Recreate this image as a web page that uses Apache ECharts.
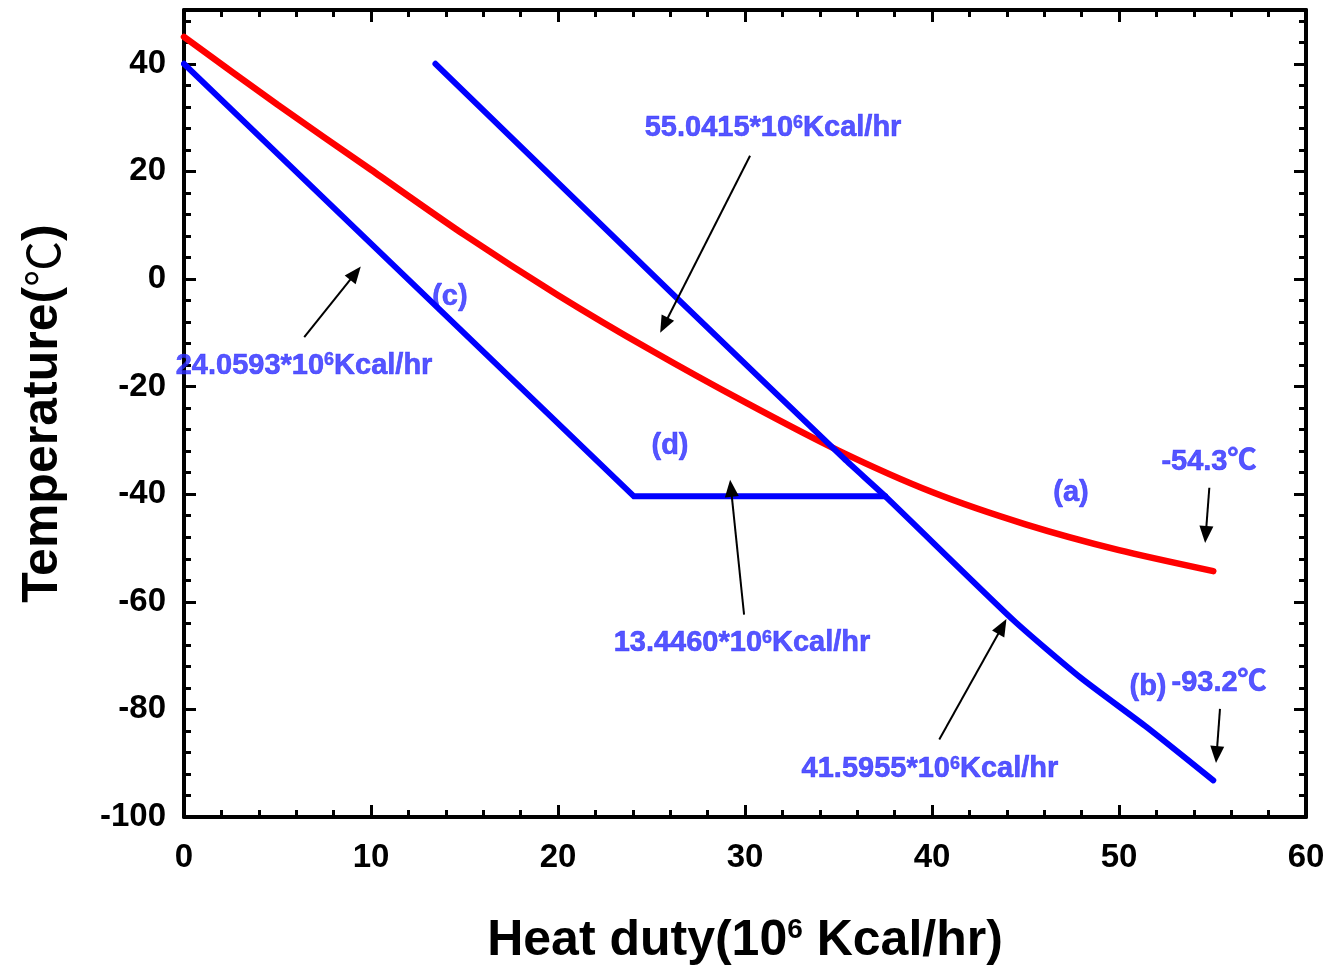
<!DOCTYPE html>
<html style="height: 100%">
<head>
<meta charset="utf-8">
</head>
<body style="height: 100%; margin: 0; background: #fff">
<div id="container" style="width: 1330px; height: 968px"></div>
<script src="https://cdn.jsdelivr.net/npm/echarts@6/dist/echarts.min.js"></script>
<script>
// curve (a): hot stream
var hotDuty = [0, 5, 10, 15, 20, 25, 30, 35, 40, 45, 50, 55.0415];
var hotTemp = [45, 32.4, 20.3, 8.2, -3.0, -13.3, -22.9, -31.9, -39.6, -45.6, -50.4, -54.3];
// curve (b): cold stream
var coldBDuty = [13.446, 26.4, 35.3, 37.5053, 44.35, 47.91, 51.48, 55.0415];
var coldBTemp = [40, -3.7, -33.4, -40.4, -63.4, -74.0, -83.3, -93.2];
// curves (c) + (d)
var coldCDuty = [0, 24.0593, 37.5053];
var coldCTemp = [40, -40.4, -40.4];

// text notes: [text, x, y]
var noteText = ['55.0415*10^6Kcal/hr', '(c)', '24.0593*10^6Kcal/hr', '(d)', '13.4460*10^6Kcal/hr',
                '(a)', '-54.3℃', '(b)', '-93.2℃', '41.5955*10^6Kcal/hr'];
var noteX = [31.5, 14.22, 6.42, 25.99, 29.84, 47.43, 54.81, 51.55, 55.35, 39.89];
var noteY = [28.0, -3.4, -16.1, -31.1, -67.7, -39.7, -34.1, -75.9, -75.0, -91.1];

// arrows: tail -> head
var arrowFrom = [[6.43, -10.8], [30.27, 22.9], [29.95, -62.4], [40.39, -85.6], [54.83, -38.8], [55.4, -79.9]];
var arrowTo = [[9.17, 1.08], [25.67, -8.6], [29.25, -38.9], [43.76, -64.6], [54.64, -47.5], [55.22, -88.4]];

function zip(a, b) {
  var out = [];
  for (var i = 0; i < a.length; i++) out.push([a[i], b[i]]);
  return out;
}

var FONT = "'Liberation Sans', Arial, 'Noto Sans CJK SC', sans-serif";
var CJK = "'Noto Sans CJK SC', 'DejaVu Sans', sans-serif";
var NOTE = '#2b2bff';

var notes = [];
for (var i = 0; i < noteText.length; i++) {
  notes.push({ value: [noteX[i], noteY[i]], name: noteText[i] });
}
var arrows = [];
for (var j = 0; j < arrowFrom.length; j++) {
  arrows.push([{ coord: arrowFrom[j] }, { coord: arrowTo[j] }]);
}

var tickAxis = function (pos, interval, len, showLine) {
  var vertical = pos === 'left' || pos === 'right';
  return {
    type: 'value', position: pos, min: vertical ? -100 : 0, max: vertical ? 50 : 60, interval: interval,
    axisLine: { show: showLine, onZero: false, lineStyle: { color: '#000', width: 4 } },
    axisTick: { show: true, inside: true, length: len, lineStyle: { color: '#000', width: 3 } },
    axisLabel: { show: false }, splitLine: { show: false }
  };
};

var dom = document.getElementById('container');
var myChart = echarts.init(dom);

var option = {
  animation: false,
  backgroundColor: '#fff',
  grid: { left: 184, right: 24, top: 10, bottom: 151, outerBoundsMode: 'none' },
  xAxis: [
    {
      type: 'value', position: 'bottom', min: 0, max: 60, interval: 10,
      axisLine: { onZero: false, lineStyle: { color: '#000', width: 4 } },
      axisTick: { inside: true, length: 12, lineStyle: { color: '#000', width: 3 } },
      minorTick: { show: true, splitNumber: 5, length: 7, lineStyle: { color: '#000', width: 3 } },
      axisLabel: { color: '#000', fontSize: 33, fontWeight: 'bold', fontFamily: FONT, margin: 24 },
      splitLine: { show: false },
      name: '{a|Heat duty(10}{s|6}{a| Kcal/hr)}',
      nameLocation: 'middle', nameGap: 99,
      nameTextStyle: {
        rich: {
          a: { fontSize: 50, fontWeight: 'bold', fontFamily: FONT, color: '#000' },
          s: { fontSize: 28, fontWeight: 'bold', fontFamily: FONT, color: '#000', verticalAlign: 'top' }
        }
      }
    },
    (function () {
      var ax = tickAxis('top', 10, 12, true);
      ax.minorTick = { show: true, splitNumber: 5, length: 7, lineStyle: { color: '#000', width: 3 } };
      return ax;
    })()
  ],
  yAxis: [
    {
      type: 'value', position: 'left', min: -100, max: 50, interval: 20,
      axisLine: { onZero: false, lineStyle: { color: '#000', width: 4 } },
      axisTick: { inside: true, length: 12, lineStyle: { color: '#000', width: 3 } },
      axisLabel: {
        color: '#000', fontSize: 33, fontWeight: 'bold', fontFamily: FONT, margin: 18,
        formatter: function (v) { return v === 50 ? '' : v; }
      },
      splitLine: { show: false },
      name: '{a|Temperature(}{c|℃}{a|)}', nameLocation: 'middle', nameGap: 116, nameRotate: 90,
      nameTextStyle: {
        rich: {
          a: { fontSize: 50, fontWeight: 'bold', fontFamily: FONT, color: '#000' },
          c: { fontSize: 46, fontWeight: 'normal', fontFamily: CJK, color: '#000' }
        }
      }
    },
    tickAxis('left', 4, 7, false),
    tickAxis('right', 20, 12, true),
    tickAxis('right', 4, 7, false)
  ],
  series: [
    {
      name: '(a)', type: 'line', data: zip(hotDuty, hotTemp), smooth: 0.25, symbol: 'none',
      lineStyle: { color: '#ff0000', width: 6.5, cap: 'round' }
    },
    {
      name: '(c)(d)', type: 'line', data: zip(coldCDuty, coldCTemp), symbol: 'none',
      lineStyle: { color: '#0000ff', width: 6, cap: 'round', join: 'miter' }
    },
    {
      name: '(b)', type: 'line', data: zip(coldBDuty, coldBTemp), smooth: 0.2, symbol: 'none',
      lineStyle: { color: '#0000ff', width: 6, cap: 'round', join: 'round' }
    },
    {
      name: 'notes', type: 'scatter', data: notes, symbolSize: 0, silent: true,
      label: {
        show: true, position: 'inside',
        formatter: function (p) {
          var t = p.name;
          if (t.indexOf('^6') >= 0) {
            var parts = t.split('^6');
            return '{n|' + parts[0] + '}{s|6}{n|' + parts[1] + '}';
          }
          return '{n|' + t + '}';
        },
        rich: {
          n: { fontSize: 29, fontWeight: 'bold', fontFamily: FONT, color: NOTE,
               textBorderColor: NOTE, textBorderWidth: 0.6 },
          s: { fontSize: 18, fontWeight: 'bold', fontFamily: FONT, color: NOTE, verticalAlign: 'top',
               textBorderColor: NOTE, textBorderWidth: 0.4 }
        }
      },
      markLine: {
        silent: true, symbol: ['none', 'triangle'], symbolSize: [14, 17],
        label: { show: false },
        lineStyle: { color: '#000', width: 2, type: 'solid' },
        data: arrows
      }
    }
  ]
};

myChart.setOption(option, true);
</script>
</body>
</html>
